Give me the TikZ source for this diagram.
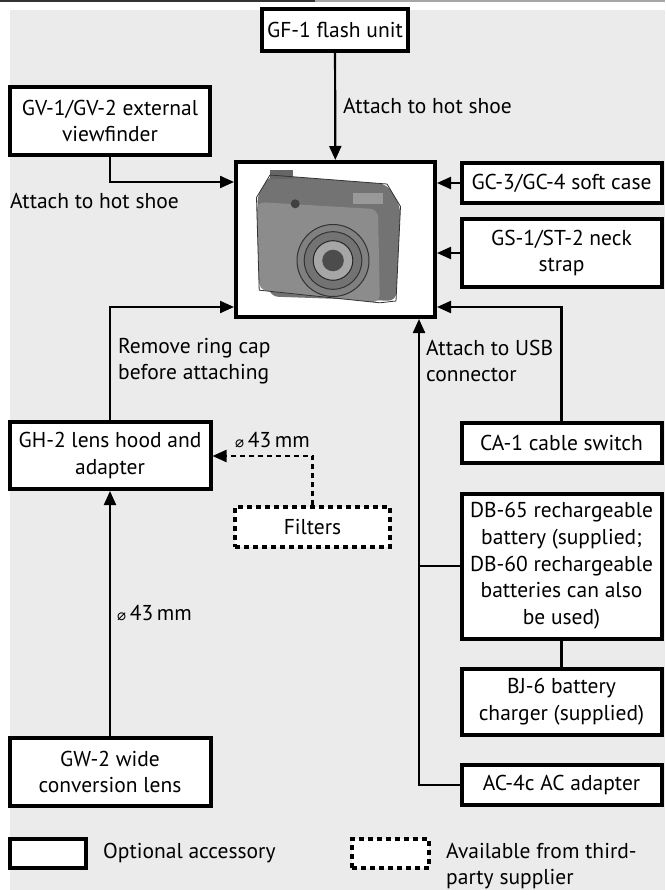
\documentclass[tikz,border=0pt]{standalone}
\usepackage{fontspec}
\setmainfont{PT Sans}
\newfontfamily\djv{DejaVu Sans}
\usetikzlibrary{arrows.meta}
\begin{document}
\begin{tikzpicture}[x=1pt,y=-1pt,
  box/.style={draw=black,line width=4pt,fill=white,align=center,font=\fontsize{21.5}{26.7}\selectfont,inner sep=1pt},
  dbox/.style={box,dash pattern=on 5pt off 4pt},
  conn/.style={line width=2.2pt},
  arr/.style={conn,-{Triangle[length=14pt,width=12pt]}},
  lab/.style={font=\fontsize{21.5}{26}\selectfont,align=left,inner sep=0pt}]
\useasboundingbox (0,0) rectangle (665,890);
\fill[white] (0,0) rectangle (665,890);
\fill[black!8] (10,10) rectangle (665,890);
\draw[line width=2pt,black!80] (0,1) -- (315,1);
\draw[line width=2pt,black!35] (315,1) -- (665,1);
% nodes
\node[box,minimum width=146pt,minimum height=42pt] (gf) at (335,30) {GF-1 flash unit};
\node[box,minimum width=200pt,minimum height=68pt] (gv) at (110,121) {GV-1/GV-2 external\\viewfinder};
\node[box,minimum width=199pt,minimum height=155pt] (cam) at (335.5,239.5) {};
\node[box,minimum width=200pt,minimum height=40pt] (gc) at (561.5,183) {GC-3/GC-4 soft case};
\node[box,minimum width=200pt,minimum height=68pt] (gs) at (561.5,253) {GS-1/ST-2 neck\\strap};
\node[box,minimum width=200pt,minimum height=40pt] (ca) at (561.5,443) {CA-1 cable switch};
\node[box,minimum width=200pt,minimum height=145pt] (db) at (561.5,566) {DB-65 rechargeable\\battery (supplied;\\DB-60 rechargeable\\batteries can also\\be used)};
\node[box,minimum width=200pt,minimum height=66pt] (bj) at (561.5,702) {BJ-6 battery\\charger (supplied)};
\node[box,minimum width=200pt,minimum height=40pt] (ac) at (561.5,785) {AC-4c AC adapter};
\node[box,minimum width=201pt,minimum height=67pt] (gh) at (110,455.5) {GH-2 lens hood and\\adapter};
\node[dbox,minimum width=155pt,minimum height=40pt] (fi) at (312.5,527) {Filters};
\node[box,minimum width=201pt,minimum height=68pt] (gw) at (110,772) {GW-2 wide\\conversion lens};
% camera drawing
\begin{scope}[shift={(333,247)},scale=0.9]
 \fill[black!55,rounded corners=8pt] (-85,-55) -- (-70,-80) -- (60,-70) -- (75,-45) -- (70,60) -- (-70,55) -- cycle;
 \fill[black!45,rounded corners=8pt] (-85,-50) -- (50,-42) -- (52,62) -- (-82,48) -- cycle;
 \fill[black!60] (-70,-85) rectangle (-45,-75);
 \fill[black!40] (22,-60) rectangle (55,-48);
 \draw[black!80,line width=1pt,fill=black!50] (0,15) circle (40);
 \draw[black!80,line width=1pt,fill=black!55] (0,15) circle (32);
 \draw[black!85,line width=1pt,fill=black!35] (0,15) circle (22);
 \fill[black!70] (0,15) circle (12);
 \fill[black!75] (-42,-48) circle (5);
 \draw[black!80,line width=0.8pt] (-85,-55) -- (-70,-80) -- (60,-70) -- (75,-45) -- (70,60) -- (52,62) -- (-82,48) -- cycle;
\end{scope}
% connectors
\draw[arr] (gf) -- (cam);
\draw[arr] (gv.south) |- (cam.west |- 0,182);
\draw[arr] (gc) -- (cam.east |- gc);
\draw[arr] (gs) -- (cam.east |- gs);
\draw[arr] (gh.north) |- (cam.west |- 0,307);
\draw[arr] (ca.north) |- (cam.east |- 0,307);
\coordinate (acj) at (419,785);
\draw[arr] (ac.west) -- (acj) -- (cam.south -| acj);
\draw[conn] (db.west) -- (db.west -| acj);
\draw[conn] (db) -- (bj);
\draw[arr] (gw) -- (gh);
\draw[arr,dash pattern=on 5pt off 4pt] (fi.north) |- (gh.east |- 0,456);
% labels
\node[lab,anchor=west] (l1) at (343,106) {Attach to hot shoe};
\node[lab,anchor=west] (l2) at (10,201) {Attach to hot shoe};
\node[lab,anchor=west] (l3) at (118,361) {Remove ring cap\\before attaching};
\node[lab,anchor=west] (l4) at (426,361) {Attach to USB\\connector};
\node[lab,anchor=west] (l5) at (235,440) {{\djv\fontsize{15}{15}\selectfont ⌀}\,43\,mm};
\node[lab,anchor=west] (l6) at (117,613) {{\djv\fontsize{15}{15}\selectfont ⌀}\,43\,mm};
% legend
\node[box,minimum width=76pt,minimum height=29pt] (lg1) at (48,853.5) {};
\node[lab,anchor=west] (lt1) at (103,853) {Optional accessory};
\node[dbox,minimum width=77pt,minimum height=29pt] (lg2) at (390.5,853.5) {};
\node[lab,anchor=west] (lt2) at (446,866) {Available from third-\\party supplier};
\end{tikzpicture}
\end{document}
